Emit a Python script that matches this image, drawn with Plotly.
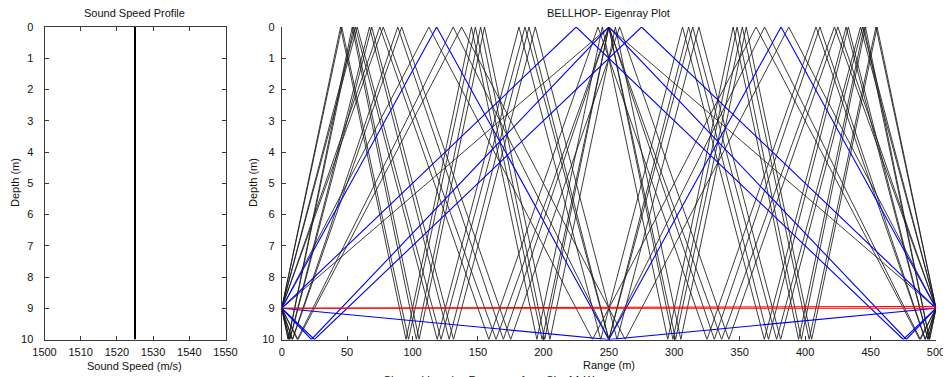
import plotly.graph_objects as go

# ---------------- data ----------------
ssp_speed = [1525, 1525]
ssp_depth = [0, 10]

# eigenrays: vertex ranges (m) and depths (m)
red_ray_ranges = [[0, 500], [0, 500]]
red_ray_depths = [[9, 9], [9, 8.94]]

blue_ray_ranges = [
    [0, 250, 500],
    [0, 225, 475, 500],
    [0, 25, 275, 500],
    [0, 22.7, 250, 477.3, 500],
    [0, 118.4, 250, 381.6, 500],
]
blue_ray_depths = [
    [9, 10, 9],
    [9, 0, 10, 9],
    [9, 10, 0, 9],
    [9, 10, 0, 10, 9],
    [9, 0, 10, 0, 9],
]

black_ray_ranges = [
    [0, 250, 500],
    [0, 112.5, 237.5, 362.5, 487.5, 500],
    [0, 12.5, 137.5, 262.5, 387.5, 500],
    [0, 11.9, 131.0, 250, 369.0, 488.1, 500],
    [0, 77.6, 163.8, 250, 336.2, 422.4, 500],
    [0, 75, 158.3, 241.7, 325, 408.3, 491.7, 500],
    [0, 8.3, 91.7, 175, 258.3, 341.7, 425, 500],
    [0, 8.1, 88.7, 169.4, 250, 330.6, 411.3, 491.9, 500],
    [0, 57.7, 121.8, 185.9, 250, 314.1, 378.2, 442.3, 500],
    [0, 56.3, 118.8, 181.3, 243.8, 306.3, 368.8, 431.3, 493.8, 500],
    [0, 6.3, 68.8, 131.3, 193.8, 256.3, 318.8, 381.3, 443.8, 500],
    [0, 6.1, 67.1, 128.0, 189.0, 250, 311.0, 372.0, 433.0, 493.9, 500],
    [0, 45.9, 96.9, 148.0, 199.0, 250, 301.0, 352.0, 403.1, 454.1, 500],
    [0, 45, 95, 145, 195, 245, 295, 345, 395, 445, 495, 500],
    [0, 5, 55, 105, 155, 205, 255, 305, 355, 405, 455, 500],
    [0, 4.9, 53.9, 102.9, 152.0, 201.0, 250, 299.0, 348.0, 397.1, 446.1, 495.1, 500],
]
black_ray_depths = [
    [9, 0, 9],
    [9, 0, 10, 0, 10, 9],
    [9, 10, 0, 10, 0, 9],
    [9, 10, 0, 10, 0, 10, 9],
    [9, 0, 10, 0, 10, 0, 9],
    [9, 0, 10, 0, 10, 0, 10, 9],
    [9, 10, 0, 10, 0, 10, 0, 9],
    [9, 10, 0, 10, 0, 10, 0, 10, 9],
    [9, 0, 10, 0, 10, 0, 10, 0, 9],
    [9, 0, 10, 0, 10, 0, 10, 0, 10, 9],
    [9, 10, 0, 10, 0, 10, 0, 10, 0, 9],
    [9, 10, 0, 10, 0, 10, 0, 10, 0, 10, 9],
    [9, 0, 10, 0, 10, 0, 10, 0, 10, 0, 9],
    [9, 0, 10, 0, 10, 0, 10, 0, 10, 0, 10, 9],
    [9, 10, 0, 10, 0, 10, 0, 10, 0, 10, 0, 9],
    [9, 10, 0, 10, 0, 10, 0, 10, 0, 10, 0, 10, 9],
]

speed_ticks = [1500, 1510, 1520, 1530, 1540, 1550]
range_ticks = [0, 50, 100, 150, 200, 250, 300, 350, 400, 450, 500]
depth_ticks = list(range(0, 11))

# ---------------- figure ----------------
# page body has an 8px default margin; figure fills the rest of the 951x377 window
OFF = 8
W, H = 951 - OFF, 377 - OFF
FONT = "Liberation Sans, Arial, sans-serif"
AX = "#3a3a3a"

fig = go.Figure()

fig.add_trace(go.Scatter(x=ssp_speed, y=ssp_depth, mode="lines",
                         line=dict(color="black", width=2),
                         xaxis="x", yaxis="y", showlegend=False, hoverinfo="skip"))

for rr, dd in zip(black_ray_ranges, black_ray_depths):
    fig.add_trace(go.Scatter(x=rr, y=dd, mode="lines", line=dict(color="#1a1a1a", width=0.85),
                             xaxis="x2", yaxis="y2", showlegend=False, hoverinfo="skip"))
for rr, dd in zip(blue_ray_ranges, blue_ray_depths):
    fig.add_trace(go.Scatter(x=rr, y=dd, mode="lines", line=dict(color="#0000ff", width=1.1),
                             xaxis="x2", yaxis="y2", showlegend=False, hoverinfo="skip"))
for rr, dd in zip(red_ray_ranges, red_ray_depths):
    fig.add_trace(go.Scatter(x=rr, y=dd, mode="lines", line=dict(color="#ff0000", width=1),
                             xaxis="x2", yaxis="y2", showlegend=False, hoverinfo="skip"))

def px_x(p):
    return (p - OFF) / W

def px_y(p):
    return 1 - (p - OFF) / H

ydom = [px_y(339.5), px_y(27)]
tickfont = dict(family=FONT, size=11, color="#111")
common = dict(ticks="inside", ticklen=4, tickcolor=AX, showline=True, linecolor=AX,
              linewidth=1, showgrid=False, zeroline=False, tickfont=tickfont,
              automargin=False, fixedrange=True)

fig.update_layout(
    width=W, height=H,
    margin=dict(l=0, r=0, t=0, b=0, pad=0, autoexpand=False),
    paper_bgcolor="white", plot_bgcolor="white",
    font=dict(family=FONT, size=11, color="#111"),
    xaxis=dict(domain=[px_x(44.5), px_x(225.5)], range=[1500, 1550], tickvals=speed_ticks,
               mirror="ticks", anchor="y", ticklabelstandoff=2, **common),
    yaxis=dict(domain=ydom, range=[10, 0], tickvals=depth_ticks,
               mirror="ticks", anchor="x", ticklabelstandoff=8, **common),
    xaxis2=dict(domain=[px_x(281.7), px_x(936)], range=[0, 500], tickvals=range_ticks,
                anchor="y2", ticklabelstandoff=2, **common),
    yaxis2=dict(domain=ydom, range=[10, 0], tickvals=depth_ticks,
                anchor="x2", ticklabelstandoff=4, **common),
)

def ann(text, x, y, angle=0, size=11):
    fig.add_annotation(text=text, x=px_x(x), y=px_y(y), xref="paper", yref="paper",
                       showarrow=False, textangle=angle,
                       font=dict(family=FONT, size=size, color="#111"),
                       xanchor="center", yanchor="middle")

ann("Sound Speed Profile", 134, 13)
ann("BELLHOP- Eigenray Plot", 608, 13)
ann("Sound Speed (m/s)", 134, 366)
ann("Range (m)", 609, 365)
ann("Depth (m)", 15, 183, angle=-90)
ann("Depth (m)", 253, 183, angle=-90)
ann("Channel Impulse Response for a SL of 1 W", 489, 380)

fig.write_html("out.html", config={"displayModeBar": False})
